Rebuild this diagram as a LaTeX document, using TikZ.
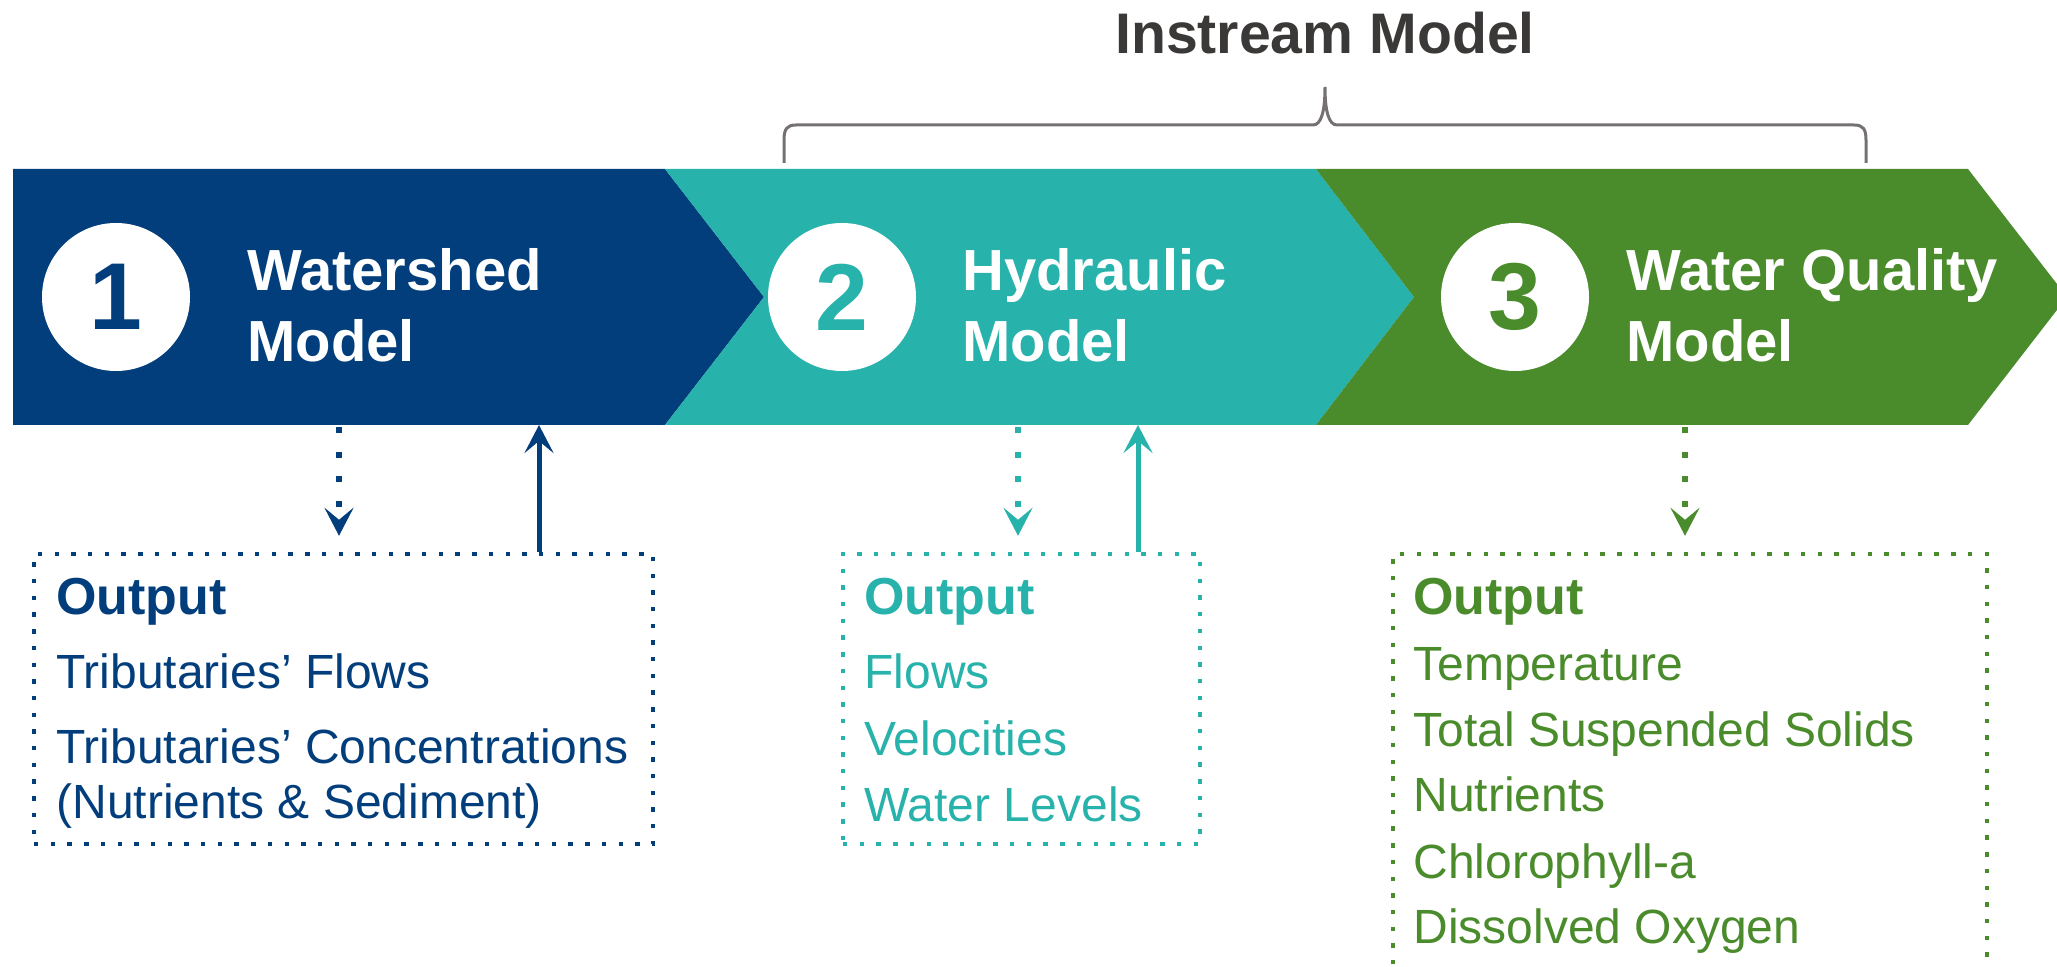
\documentclass[tikz,border=0pt]{standalone}
\usepackage{fontspec}
\setmainfont{Liberation Sans}
\usetikzlibrary{arrows.meta}
\definecolor{cblue}{RGB}{3,62,124}
\definecolor{cteal}{RGB}{39,178,172}
\definecolor{cgreen}{RGB}{74,139,44}
\definecolor{ctitle}{RGB}{59,56,56}
\definecolor{cbrace}{RGB}{118,113,113}
\tikzset{
  numcirc/.style={circle, fill=white, draw=none, minimum size=74pt, inner sep=0pt,
    font=\fontsize{47.5}{50}\selectfont\bfseries},
  chevtitle/.style={anchor=base west, inner sep=0pt, text=white,
    font=\fontsize{29}{35}\selectfont\bfseries},
  outhead/.style={anchor=base west, inner sep=0pt, font=\fontsize{26}{30}\selectfont\bfseries},
  outitem/.style={anchor=base west, inner sep=0pt, font=\fontsize{24}{28}\selectfont},
  obox/.style={rectangle, draw, line width=2.2pt, dash pattern=on 2.2pt off 6.15pt, inner sep=0pt},
  dotarrow/.style={line width=3pt, dash pattern=on 3pt off 9.35pt,
    -{Stealth[length=14pt, width=14.5pt, inset=6pt]}},
  solidarrow/.style={line width=2.5pt, -{Stealth[length=14pt, width=14.5pt, inset=6pt]}},
  bracestyle/.style={draw=cbrace, line width=1.5pt},
}
\begin{document}
\begin{tikzpicture}[x=0.5pt, y=-0.5pt]
\useasboundingbox (0,0) rectangle (2057,967);
\clip (0,0) rectangle (2057,967);

% chevrons
\fill[cblue] (13,169) -- (665,169) -- (764,297) -- (665,425) -- (13,425) -- cycle;
\fill[cteal] (665,169) -- (1316,169) -- (1414,297) -- (1316,425) -- (665,425) -- (764,297) -- cycle;
\fill[cgreen] (1316,169) -- (1968,169) -- (2067,297) -- (1968,425) -- (1316,425) -- (1414,297) -- cycle;

% circles with numbers
\node[numcirc, text=cblue] (n1) at (116,297) {1};
\node[numcirc, text=cteal] (n2) at (842,297) {2};
\node[numcirc, text=cgreen] (n3) at (1515,297) {3};

% chevron titles
\node[chevtitle] (t1a) at (247,291) {Watershed};
\node[chevtitle] (t1b) at (247,362) {Model};
\node[chevtitle] (t2a) at (962,291) {Hydraulic};
\node[chevtitle] (t2b) at (962,362) {Model};
\node[chevtitle] (t3a) at (1626,291) {Water Quality};
\node[chevtitle] (t3b) at (1626,362) {Model};

% instream title and brace
\node[anchor=base, inner sep=0pt, text=ctitle, font=\fontsize{28.6}{32}\selectfont\bfseries] (inst) at (1325,54) {Instream Model};
\draw[bracestyle] (784,163) -- (784,140) .. controls (784,129) and (787,125) .. (796,125)
  -- (1313,125) .. controls (1321,125) and (1325,112) .. (1325,87)
  .. controls (1325,112) and (1329,125) .. (1337,125)
  -- (1854,125) .. controls (1863,125) and (1866,129) .. (1866,140) -- (1866,163);

% output boxes
\node[obox, draw=cblue, minimum width=309.5pt, minimum height=145pt] (box1) at (343.5,699) {};
\node[obox, draw=cteal, minimum width=178.5pt, minimum height=145pt] (box2) at (1021.5,699) {};
\node[obox, draw=cgreen, minimum width=297pt, minimum height=230pt] (box3) at (1690,784) {};

% arrow anchor points on chevrons
\coordinate (c1out) at (339,427);
\coordinate (c1in) at (539,425);
\coordinate (c2out) at (1018,427);
\coordinate (c2in) at (1138,425);
\coordinate (c3out) at (1685,427);

\draw[dotarrow, cblue, shorten >=8pt] (c1out) -- (box1.north -| c1out);
\draw[solidarrow, cblue] (box1.north -| c1in) -- (c1in);
\draw[dotarrow, cteal, shorten >=8pt] (c2out) -- (box2.north -| c2out);
\draw[solidarrow, cteal] (box2.north -| c2in) -- (c2in);
\draw[dotarrow, cgreen, shorten >=8pt] (c3out) -- (box3.north -| c3out);

% box 1 texts
\node[outhead, text=cblue] (o1) at (56,615) {Output};
\node[outitem, text=cblue] (o1a) at (56,689) {Tributaries’ Flows};
\node[outitem, text=cblue] (o1b) at (56,763) {Tributaries’ Concentrations};
\node[outitem, text=cblue] (o1c) at (56,818) {(Nutrients \& Sediment)};

% box 2 texts
\node[outhead, text=cteal] (o2) at (864,615) {Output};
\node[outitem, text=cteal] (o2a) at (864,689) {Flows};
\node[outitem, text=cteal] (o2b) at (864,755) {Velocities};
\node[outitem, text=cteal] (o2c) at (864,821) {Water Levels};

% box 3 texts
\node[outhead, text=cgreen] (o3) at (1413,615) {Output};
\node[outitem, text=cgreen] (o3a) at (1413,681) {Temperature};
\node[outitem, text=cgreen] (o3b) at (1413,747) {Total Suspended Solids};
\node[outitem, text=cgreen] (o3c) at (1413,812) {Nutrients};
\node[outitem, text=cgreen] (o3d) at (1413,878) {Chlorophyll-a};
\node[outitem, text=cgreen] (o3e) at (1413,943) {Dissolved Oxygen};
\end{tikzpicture}
\end{document}
